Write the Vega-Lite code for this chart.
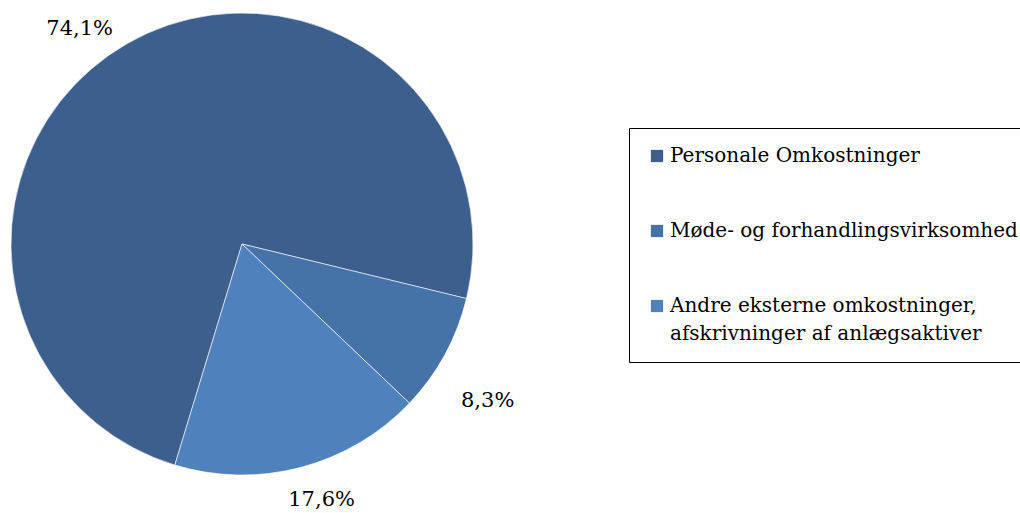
{
  "$schema": "https://vega.github.io/schema/vega-lite/v6.json",
  "width": 484,
  "height": 488,
  "padding": 0,
  "background": "white",
  "config": {"view": {"stroke": null}, "font": "DejaVu Serif", "style": {"guide-label": {"lineHeight": 28}}},
  "data": {
    "values": [
      {"kategori": "Personale Omkostninger", "andel": 74.1, "label": "74,1%", "rk": 1},
      {"kategori": "Møde- og forhandlingsvirksomhed", "andel": 8.3, "label": "8,3%", "rk": 2},
      {"kategori": "Andre eksterne omkostninger, afskrivninger af anlægsaktiver", "andel": 17.6, "label": "17,6%", "rk": 3}
    ]
  },
  "encoding": {
    "theta": {"field": "andel", "type": "quantitative", "stack": true, "scale": {"range": [3.4366, 9.7198]}},
    "order": {"field": "rk", "type": "quantitative"}
  },
  "layer": [
    {
      "mark": {"type": "arc", "outerRadius": 231, "stroke": "white", "strokeWidth": 0.6},
      "encoding": {
        "color": {
          "field": "kategori",
          "type": "nominal",
          "scale": {
            "domain": ["Personale Omkostninger", "Møde- og forhandlingsvirksomhed", "Andre eksterne omkostninger, afskrivninger af anlægsaktiver"],
            "range": ["#3C5F8E", "#4572A7", "#4F81BD"]
          },
          "legend": {
            "title": null,
            "orient": "none",
            "legendX": 629,
            "legendY": 128,
            "strokeColor": "black",
            "padding": 18,
            "symbolType": "square",
            "symbolSize": 150,
            "symbolStrokeWidth": 0,
            "symbolOpacity": 1,
            "labelFont": "DejaVu Serif",
            "labelFontSize": 20,
            "labelColor": "black",
            "labelOffset": 3,
            "rowPadding": 55,
            "labelLimit": 0,
            "labelBaseline": "middle",
            "labelExpr": "datum.label == 'Andre eksterne omkostninger, afskrivninger af anlägsaktiver' ? ['Andre eksterne omkostninger,', 'afskrivninger af anlægsaktiver'] : (datum.label == 'Andre eksterne omkostninger, afskrivninger af anlægsaktiver' ? ['Andre eksterne omkostninger,', 'afskrivninger af anlægsaktiver'] : datum.label)",
            "encode": {
              "legend": {"update": {"strokeWidth": {"value": 1.5}}},
              "labels": {"update": {"lineHeight": {"value": 28}}}
            }
          }
        }
      }
    },
    {
      "mark": {"type": "text", "radius": 265, "dx": -31, "dy": 15, "fontSize": 21, "font": "DejaVu Serif", "color": "black"},
      "encoding": {"text": {"condition": {"test": "datum.rk == 1", "field": "label"}, "value": ""}}
    },
    {
      "mark": {"type": "text", "radius": 265, "dx": 13, "dy": 30, "fontSize": 21, "font": "DejaVu Serif", "color": "black"},
      "encoding": {"text": {"condition": {"test": "datum.rk == 2", "field": "label"}, "value": ""}}
    },
    {
      "mark": {"type": "text", "radius": 265, "dx": 12, "dy": 0, "fontSize": 21, "font": "DejaVu Serif", "color": "black"},
      "encoding": {"text": {"condition": {"test": "datum.rk == 3", "field": "label"}, "value": ""}}
    }
  ]
}
